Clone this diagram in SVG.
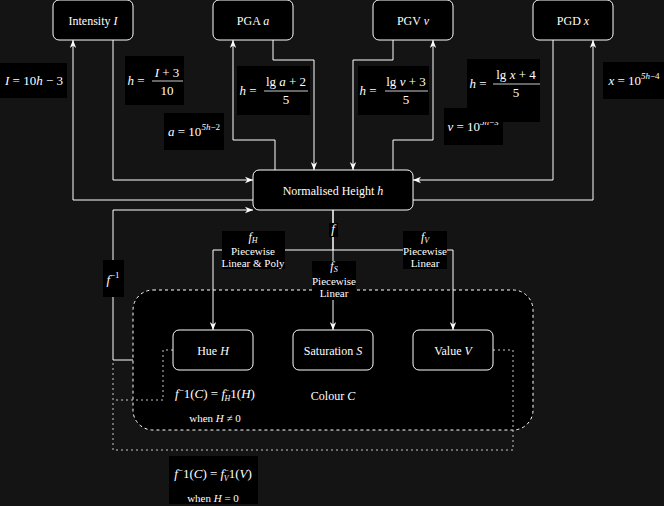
<svg xmlns="http://www.w3.org/2000/svg" width="664" height="506" viewBox="0 0 664 506">
<defs>
<marker id="arr" viewBox="0 0 10 10" refX="10" refY="5" markerWidth="8" markerHeight="8" markerUnits="userSpaceOnUse" orient="auto">
<path d="M0,1 L10,5 L0,9 L3,5 z" fill="#fff"/>
</marker>
<style>
text{font-family:"Liberation Serif","DejaVu Serif",serif;fill:#fff}
.node rect{fill:#000;stroke:#fff;stroke-width:1}
.nt{font-size:12px;text-anchor:middle}
.e{fill:none;stroke:#fff;stroke-width:1}
.ea{fill:none;stroke:#fff;stroke-width:1;marker-end:url(#arr)}
.d{fill:none;stroke:#c8c8c8;stroke-width:1;stroke-dasharray:2 3}
.lb{fill:#000}
.m{font-size:13px;text-anchor:middle}
.s{font-size:11px;text-anchor:middle}
.i{font-style:italic}
.bar{stroke:#fff;stroke-width:0.8}
</style>
</defs>
<rect width="664" height="506" fill="#141414"/>

<g id="colour">
<rect x="133" y="290" width="400" height="140" rx="20" fill="#000" stroke="#fff" stroke-dasharray="3 3"/>
<text x="333" y="400" class="nt">Colour <tspan class="i">C</tspan></text>
</g>

<g id="connectors">
<path class="ea" d="M253,200 L73,200 L73,40"/>
<path class="ea" d="M113,40 L113,180 L253,180"/>
<path class="ea" d="M273,40 L273,60 L314,60 L314,170"/>
<path class="ea" d="M275,170 L275,140 L233,140 L233,40"/>
<path class="ea" d="M393,40 L393,60 L353,60 L353,170"/>
<path class="ea" d="M393,170 L393,140 L433,140 L433,40"/>
<path class="ea" d="M553,40 L553,180 L413,180"/>
<path class="ea" d="M413,200 L593,200 L593,40"/>
<path class="ea" d="M333,210 L333,250 L213,250 L213,330"/>
<path class="ea" d="M333,210 L333,330"/>
<path class="ea" d="M333,250 L453,250 L453,330"/>
<path class="ea" d="M133,360 L113,360 L113,210 L253,210"/>
<path class="d" d="M173,350 L163,350 L163,400 L113,400 L113,361"/>
<path class="d" d="M493,350 L513,350 L513,450 L113,450 L113,400"/>
</g>

<g id="labels">
<rect class="lb" x="0" y="63" width="67" height="35"/>
<text class="m" x="34" y="85"><tspan class="i">I</tspan> = 10<tspan class="i">h</tspan> − 3</text>

<rect class="lb" x="125" y="56" width="59" height="49"/>
<text class="m" x="136" y="85"><tspan class="i">h</tspan> =</text>
<text class="m" x="167" y="77"><tspan class="i">I</tspan> + 3</text>
<line class="bar" x1="152" y1="81" x2="183" y2="81"/>
<text class="m" x="167" y="95">10</text>

<rect class="lb" x="164" y="113" width="60" height="37"/>
<text class="m" x="194" y="136"><tspan class="i">a</tspan> = 10<tspan font-size="9" dy="-6"><tspan class="i">5h</tspan>−2</tspan></text>

<rect class="lb" x="237" y="66" width="73" height="49"/>
<text class="m" x="248" y="95"><tspan class="i">h</tspan> =</text>
<text class="m" x="286" y="86">lg <tspan class="i">a</tspan> + 2</text>
<line class="bar" x1="264" y1="91" x2="308" y2="91"/>
<text class="m" x="286" y="104">5</text>

<rect class="lb" x="358" y="66" width="71" height="49"/>
<text class="m" x="368" y="95"><tspan class="i">h</tspan> =</text>
<text class="m" x="406" y="86">lg <tspan class="i">v</tspan> + 3</text>
<line class="bar" x1="385" y1="91" x2="428" y2="91"/>
<text class="m" x="406" y="104">5</text>

<rect class="lb" x="444" y="108" width="59" height="37"/>
<text class="m" x="473" y="131"><tspan class="i">v</tspan> = 10<tspan font-size="9" dy="-6"><tspan class="i">5h</tspan>−3</tspan></text>

<rect class="lb" x="467" y="59" width="73" height="63"/>
<text class="m" x="478" y="88"><tspan class="i">h</tspan> =</text>
<text class="m" x="516" y="79">lg <tspan class="i">x</tspan> + 4</text>
<line class="bar" x1="493" y1="84" x2="540" y2="84"/>
<text class="m" x="516" y="97">5</text>

<rect class="lb" x="603" y="62" width="61" height="37"/>
<text class="m" x="634" y="85"><tspan class="i">x</tspan> = 10<tspan font-size="9" dy="-6"><tspan class="i">5h</tspan>−4</tspan></text>

<rect class="lb" x="329" y="223" width="9" height="14"/>
<text class="m" x="333" y="233"><tspan class="i">f</tspan></text>

<rect class="lb" x="222" y="231" width="63" height="38"/>
<text class="s" x="253" y="241"><tspan class="i" font-size="12">f</tspan><tspan class="i" font-size="8" dy="2">H</tspan></text>
<text class="s" x="253" y="255">Piecewise</text>
<text class="s" x="253" y="267">Linear &amp; Poly</text>

<rect class="lb" x="312" y="261" width="44" height="39"/>
<text class="s" x="334" y="270"><tspan class="i" font-size="12">f</tspan><tspan class="i" font-size="8" dy="2">S</tspan></text>
<text class="s" x="334" y="285">Piecewise</text>
<text class="s" x="334" y="297">Linear</text>

<rect class="lb" x="403" y="231" width="44" height="38"/>
<text class="s" x="425" y="241"><tspan class="i" font-size="12">f</tspan><tspan class="i" font-size="8" dy="2">V</tspan></text>
<text class="s" x="425" y="255">Piecewise</text>
<text class="s" x="425" y="267">Linear</text>

<rect class="lb" x="103" y="260" width="21" height="37"/>
<text class="m" x="113" y="284"><tspan class="i">f</tspan><tspan font-size="9" dy="-6">−1</tspan></text>

<text class="m" x="215" y="398"><tspan class="i">f</tspan><tspan font-size="9" dy="-5">−</tspan><tspan dy="5">1(</tspan><tspan class="i">C</tspan>) = <tspan class="i">f</tspan><tspan font-size="8" dy="-5">−</tspan><tspan font-size="8" class="i" dx="-5" dy="8">H</tspan><tspan dy="-3">1(</tspan><tspan class="i">H</tspan>)</text>
<text class="s" x="215" y="422">when <tspan class="i">H</tspan> ≠ 0</text>

<rect class="lb" x="169" y="456" width="89" height="48"/>
<text class="m" x="213" y="478"><tspan class="i">f</tspan><tspan font-size="9" dy="-5">−</tspan><tspan dy="5">1(</tspan><tspan class="i">C</tspan>) = <tspan class="i">f</tspan><tspan font-size="8" dy="-5">−</tspan><tspan font-size="8" class="i" dx="-5" dy="8">V</tspan><tspan dy="-3">1(</tspan><tspan class="i">V</tspan>)</text>
<text class="s" x="213" y="502">when <tspan class="i">H</tspan> = 0</text>
</g>

<g id="n-intensity" class="node"><rect x="53" y="0" width="80" height="40" rx="6"/><text class="nt" x="93" y="25">Intensity <tspan class="i">I</tspan></text></g>
<g id="n-pga" class="node"><rect x="213" y="0" width="80" height="40" rx="6"/><text class="nt" x="253" y="25">PGA <tspan class="i">a</tspan></text></g>
<g id="n-pgv" class="node"><rect x="373" y="0" width="80" height="40" rx="6"/><text class="nt" x="413" y="25">PGV <tspan class="i">v</tspan></text></g>
<g id="n-pgd" class="node"><rect x="533" y="0" width="80" height="40" rx="6"/><text class="nt" x="573" y="25">PGD <tspan class="i">x</tspan></text></g>
<g id="n-height" class="node"><rect x="253" y="170" width="160" height="40" rx="6"/><text class="nt" x="333" y="195">Normalised Height <tspan class="i">h</tspan></text></g>
<g id="n-hue" class="node"><rect x="173" y="330" width="80" height="40" rx="6"/><text class="nt" x="213" y="355">Hue <tspan class="i">H</tspan></text></g>
<g id="n-sat" class="node"><rect x="293" y="330" width="80" height="40" rx="6"/><text class="nt" x="333" y="355">Saturation <tspan class="i">S</tspan></text></g>
<g id="n-value" class="node"><rect x="413" y="330" width="80" height="40" rx="6"/><text class="nt" x="453" y="355">Value <tspan class="i">V</tspan></text></g>
</svg>
